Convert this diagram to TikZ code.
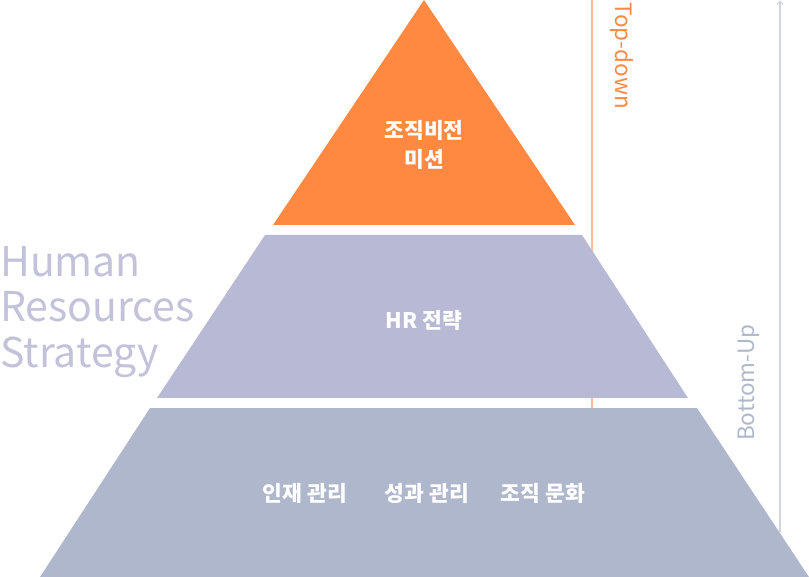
\documentclass[tikz,border=0pt]{standalone}
\usepackage{fontspec}
\setmainfont{Noto Sans CJK KR}
\usetikzlibrary{arrows.meta}

\definecolor{visionorange}{HTML}{FF8940}
\definecolor{strategyblue}{HTML}{B8B9D4}
\definecolor{baseblue}{HTML}{AEB7CB}
\definecolor{downline}{HTML}{FFBF98}
\definecolor{upline}{HTML}{D0D4E2}
\definecolor{titlegray}{HTML}{C2C3DB}

\tikzset{
    label/.style={text=white, font=\bfseries\fontsize{21.5}{29}\selectfont, align=center},
    sidetext/.style={font=\fontsize{22.5}{24}\selectfont},
    title/.style={text=titlegray, font=\fontsize{41}{45}\selectfont, anchor=base west, inner sep=0pt}
}

\begin{document}
\begin{tikzpicture}[x=1pt, y=-1pt]
    \useasboundingbox (0,0) rectangle (809,577);

    % Direction lines (behind the pyramid)
    \coordinate (DOWNTOP) at (592,0);
    \coordinate (DOWNEND) at (592,410);
    \coordinate (UPSTART) at (780,532);
    \coordinate (UPEND) at (780,0.5);
    \draw[downline, line width=1.2pt] (DOWNTOP) -- (DOWNEND);
    \draw[upline, line width=1.2pt, -{Straight Barb[length=3pt, width=6pt]}] (UPSTART) -- (UPEND);

    % Pyramid levels
    \fill[visionorange] (424,0) -- (575,225) -- (273,225) -- cycle;
    \fill[strategyblue] (265,235) -- (582,235) -- (688,398) -- (157,398) -- cycle;
    \fill[baseblue] (150,408) -- (697,408) -- (809,577) -- (40,577) -- cycle;

    % Level labels
    \node[label] (VISION) at (424,145) {조직비전\\미션};
    \node[label] (HR) at (424,320) {HR 전략};
    \node[label] (TALENT) at (305,493) {인재 관리};
    \node[label] (PERF) at (427,493) {성과 관리};
    \node[label] (CULTURE) at (543,493) {조직 문화};

    % Direction texts
    \node[sidetext, text=visionorange, rotate=-90, anchor=north west, inner sep=0pt] (TOPDOWN) at (634,2) {Top-down};
    \node[sidetext, text=baseblue, rotate=90, anchor=south west, inner sep=0pt] (BOTTOMUP) at (760,441) {Bottom-Up};

    % Title
    \node[title] (HUMAN) at (0,277) {Human};
    \node[title] (RESOURCES) at (0,322) {Resources};
    \node[title] (STRATEGY) at (0,368) {Strategy};
\end{tikzpicture}
\end{document}
